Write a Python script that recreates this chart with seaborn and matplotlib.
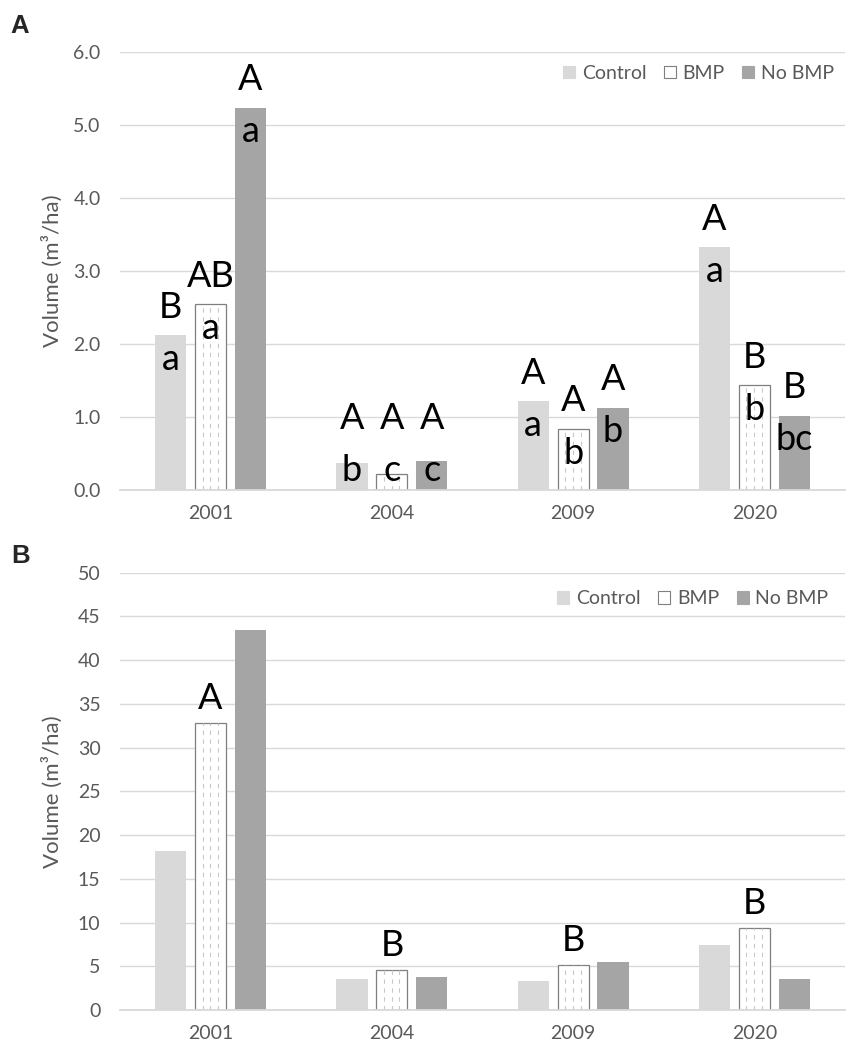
import numpy as np
import pandas as pd
import matplotlib
matplotlib.use("Agg")
import matplotlib.pyplot as plt
from matplotlib.patches import Patch
import seaborn as sns

# ---------------- data ----------------
years = ["2001", "2004", "2009", "2020"]
treatments = ["Control", "BMP", "No BMP"]

# Panel A (Volume m3/ha)
a_control = [2.12, 0.37, 1.22, 3.33]
a_bmp = [2.55, 0.22, 0.84, 1.44]
a_nobmp = [5.24, 0.40, 1.13, 1.02]
a_upper = [["B", "A", "A", "A"], ["AB", "A", "A", "B"], ["A", "A", "A", "B"]]
a_lower = [["a", "b", "a", "a"], ["a", "c", "b", "b"], ["a", "c", "b", "bc"]]

# Panel B (Volume m3/ha)
b_control = [18.2, 3.5, 3.3, 7.4]
b_bmp = [32.8, 4.6, 5.2, 9.4]
b_nobmp = [43.5, 3.8, 5.5, 3.5]
b_bmp_labels = ["A", "B", "B", "B"]

a_ticks = [0.0, 1.0, 2.0, 3.0, 4.0, 5.0, 6.0]
b_ticks = [0, 5, 10, 15, 20, 25, 30, 35, 40, 45, 50]

colors = {"Control": "#d9d9d9", "BMP": "#ffffff", "No BMP": "#a5a5a5"}
GRAY_TXT = "#595959"
GRID = "#d9d9d9"

sns.set_theme(style="white")
plt.rcParams["font.family"] = ["Lato", "DejaVu Sans"]

TICK_FS = 14
LAB_FS = 16
LEG_FS = 14
ANN_FS = 26


def make_df(c, b, n):
    rows = []
    for t, vals in zip(treatments, [c, b, n]):
        for y, v in zip(years, vals):
            rows.append({"year": y, "treatment": t, "value": v})
    return pd.DataFrame(rows)


fig = plt.figure(figsize=(8.51, 10.54), dpi=100)
axA = fig.add_axes([0.141, 0.535, 0.852, 0.4155])
axB = fig.add_axes([0.141, 0.0417, 0.852, 0.4149])


def draw(ax, df, ymax, ticks, fmt, legend_y, leg_pad):
    sns.barplot(data=df, x="year", y="value", hue="treatment",
                hue_order=treatments, order=years, palette=colors,
                width=0.66, gap=0.22, errorbar=None, saturation=1,
                legend=False, ax=ax)
    for t, cont in zip(treatments, ax.containers):
        for p in cont.patches:
            if t == "BMP":
                p.set_edgecolor("#7f7f7f")
                p.set_linewidth(0.9)
                x0, w, h = p.get_x(), p.get_width(), p.get_height()
                for f in (0.24, 0.49, 0.74):
                    ax.vlines(x0 + w * f, 0, h, colors="#c8c8c8",
                              linewidth=0.8, linestyles=(0, (4, 4)),
                              zorder=p.get_zorder() + 0.1)
            else:
                p.set_linewidth(0)
    ax.set_ylim(0, ymax)
    ax.set_xlim(-0.5, 3.5)
    ax.set_yticks(ticks)
    ax.set_yticklabels([fmt.format(v) for v in ticks])
    ax.yaxis.grid(True, color=GRID, linewidth=1.0)
    ax.set_axisbelow(True)
    for s in ["top", "right", "left"]:
        ax.spines[s].set_visible(False)
    ax.spines["bottom"].set_color(GRID)
    ax.spines["bottom"].set_linewidth(1.3)
    ax.tick_params(axis="y", length=0, pad=14, labelsize=TICK_FS, labelcolor=GRAY_TXT)
    ax.tick_params(axis="x", length=0, pad=11, labelsize=TICK_FS, labelcolor=GRAY_TXT)
    ax.set_xlabel("")
    ax.set_ylabel("Volume (m³/ha)", fontsize=LAB_FS, color=GRAY_TXT)
    ax.yaxis.set_label_coords(-0.079, 0.5)
    handles = [Patch(facecolor=colors[t], edgecolor=("#7f7f7f" if t == "BMP" else colors[t]),
                     linewidth=0.8) for t in treatments]
    leg = ax.legend(handles, treatments, loc="center right", bbox_to_anchor=(1.0, legend_y),
                    ncol=3, frameon=False, fontsize=LEG_FS, handlelength=0.62, handleheight=0.62,
                    handletextpad=0.35, columnspacing=0.9, borderaxespad=leg_pad)
    for txt in leg.get_texts():
        txt.set_color(GRAY_TXT)


dfA = make_df(a_control, a_bmp, a_nobmp)
draw(axA, dfA, 6.0, a_ticks, "{:.1f}", 0.952, 0.15)
for ti, cont in enumerate(axA.containers):
    for yi, p in enumerate(cont.patches):
        xc = p.get_x() + p.get_width() / 2
        yv = max(p.get_height(), 0.6)
        axA.annotate(a_upper[ti][yi], (xc, yv), xytext=(0, 12.5), textcoords="offset points",
                     ha="center", va="baseline", fontsize=ANN_FS, color="black")
        axA.annotate(a_lower[ti][yi], (xc, yv), xytext=(0, -25), textcoords="offset points",
                     ha="center", va="baseline", fontsize=ANN_FS, color="black")

dfB = make_df(b_control, b_bmp, b_nobmp)
draw(axB, dfB, 50, b_ticks, "{:d}", 0.94, 0.45)
for yi, p in enumerate(axB.containers[1].patches):
    xc = p.get_x() + p.get_width() / 2
    axB.annotate(b_bmp_labels[yi], (xc, p.get_height()), xytext=(0, 10),
                 textcoords="offset points", ha="center", va="baseline",
                 fontsize=ANN_FS, color="black")

fig.text(0.012, 0.9687, "A", fontsize=18.5, fontweight="bold", ha="left", va="baseline",
         family=["Liberation Sans", "DejaVu Sans"])
fig.text(0.013, 0.4658, "B", fontsize=18.5, fontweight="bold", ha="left", va="baseline",
         family=["Liberation Sans", "DejaVu Sans"])

fig.savefig("out.png", dpi=100)
